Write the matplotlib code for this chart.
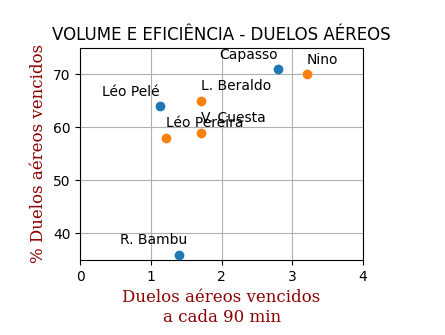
import matplotlib
matplotlib.use('Agg')
import matplotlib.pyplot as plt

# dados
nomes_a = ['Capasso', 'Léo Pelé', 'R. Bambu']
x_a = [2.8, 1.13, 1.4]
y_a = [71, 64, 36]

nomes_b = ['Nino', 'L. Beraldo', 'V. Cuesta', 'Léo Pereira']
x_b = [3.2, 1.71, 1.71, 1.21]
y_b = [70, 65, 59, 58]

fig = plt.figure(figsize=(4.45, 3.35), dpi=100)
ax = fig.add_axes([0.18, 0.224, 0.636, 0.633])

ax.scatter(x_a, y_a, color='tab:blue', zorder=3)
ax.scatter(x_b, y_b, color='tab:orange', zorder=3)

# rótulos: azul à esquerda do ponto, laranja à direita
ajuste = {'R. Bambu': 0.12}
for n, x, y in zip(nomes_a, x_a, y_a):
    ax.text(x + ajuste.get(n, 0), y + 2, n, ha='right', fontsize=10)
for n, x, y in zip(nomes_b, x_b, y_b):
    ax.text(x, y + 2, n, ha='left', fontsize=10)

ax.set_xlim(0, 4)
ax.set_ylim(35, 75)
ax.set_xticks([0, 1, 2, 3, 4])
ax.set_yticks([40, 50, 60, 70])
ax.grid(True)
ax.set_axisbelow(True)

ax.set_title('VOLUME E EFICIÊNCIA - DUELOS AÉREOS', fontsize=12)
ax.set_xlabel('Duelos aéreos vencidos\na cada 90 min', family='serif',
              color='darkred', fontsize=12)
ax.set_ylabel('% Duelos aéreos vencidos', family='serif',
              color='darkred', fontsize=12)

plt.savefig('out.png', dpi=100)
